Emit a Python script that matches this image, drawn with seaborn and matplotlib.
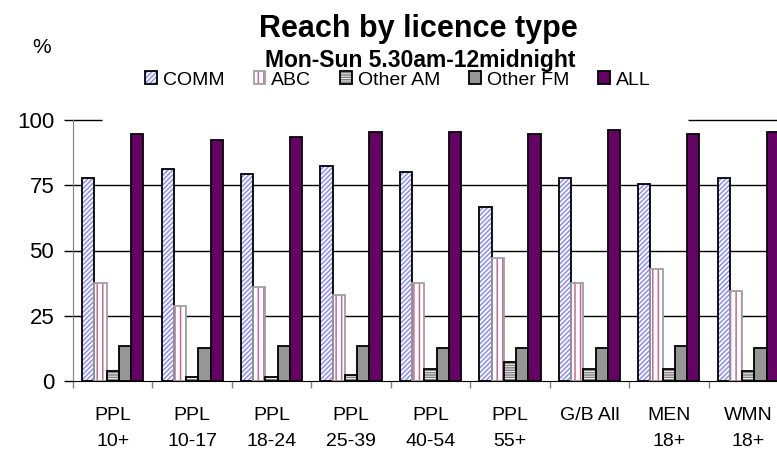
import numpy as np
import pandas as pd
import matplotlib
matplotlib.use('Agg')
import matplotlib.pyplot as plt
import matplotlib.patches as mpatches
from matplotlib.legend_handler import HandlerTuple
import seaborn as sns

# data (% reach)
groups = ['PPL\n10+', 'PPL\n10-17', 'PPL\n18-24', 'PPL\n25-39', 'PPL\n40-54',
          'PPL\n55+', 'G/B All\n ', 'MEN\n18+', 'WMN\n18+']
types = ['COMM', 'ABC', 'Other AM', 'Other FM', 'ALL']
comm = [77.6, 81.4, 79.2, 82.4, 79.9, 66.7, 77.6, 75.4, 77.6]
abc = [37.6, 28.6, 36.2, 33.0, 37.6, 47.0, 37.6, 43.0, 34.6]
other_am = [3.8, 1.5, 1.5, 2.3, 4.7, 7.4, 4.5, 4.5, 3.8]
other_fm = [13.5, 12.8, 13.5, 13.5, 12.8, 12.8, 12.8, 13.5, 12.8]
all_radio = [94.6, 92.3, 93.6, 95.4, 95.5, 94.6, 96.2, 94.6, 95.5]

wide = pd.DataFrame({'group': groups, 'COMM': comm, 'ABC': abc,
                     'Other AM': other_am, 'Other FM': other_fm, 'ALL': all_radio})
df = wide.melt(id_vars='group', var_name='type', value_name='reach')

# face, hatch, hatch colour, border
styles = {
    'COMM': ('white', '///////', '#8C8CFF', 'black'),
    'ABC': ('white', '|||', '#C8679A', '#A0A0A0'),
    'Other AM': ('white', '-------', '#808080', 'black'),
    'Other FM': ('#969696', None, None, 'black'),
    'ALL': ('#660066', None, None, 'black'),
}

plt.rcParams['font.family'] = ['Liberation Sans', 'DejaVu Sans']
plt.rcParams['hatch.linewidth'] = 1.1

fig = plt.figure(figsize=(7.77, 4.51), dpi=100)
ax = fig.add_axes([73 / 777, 70 / 451, 715 / 777, 261 / 451])

sns.barplot(data=df, x='group', y='reach', hue='type', hue_order=types,
            order=groups, width=0.77, errorbar=None, legend=False,
            palette=['white'] * 5, ax=ax)

for cont, t in zip(ax.containers, types):
    face, hatch, hcol, edge = styles[t]
    for p in cont:
        p.set_facecolor(face)
        p.set_zorder(2)
        if hatch:
            p.set_hatch(hatch)
            p.set_edgecolor(hcol)
            p.set_linewidth(0)
            ax.add_patch(mpatches.Rectangle(p.get_xy(), p.get_width(), p.get_height(),
                                            fill=False, edgecolor=edge, lw=1.3, zorder=2.1))
        else:
            p.set_edgecolor(edge)
            p.set_linewidth(1.3)

ax.set_xlim(-0.5, 8.5)
ax.set_ylim(0, 100)
ax.set_yticks([0, 25, 50, 75, 100])
ax.set_xlabel('')
ax.set_ylabel('')

# gridlines (the 100 line is hidden behind the legend area in the original)
ax.hlines([25, 50, 75], -0.5, 8.5, color='black', lw=1, zorder=1)
ax.hlines(100, -0.5, -0.13, color='black', lw=1, zorder=1, clip_on=False)
ax.hlines(100, 7.24, 8.5, color='black', lw=1, zorder=1, clip_on=False)

for s in ['top', 'right']:
    ax.spines[s].set_visible(False)
ax.spines['left'].set_color('#808080')
ax.spines['bottom'].set_color('black')
ax.spines['bottom'].set_zorder(3)

ax.tick_params(axis='y', length=6.5, width=1, color='black', labelsize=16, pad=7)
ax.tick_params(axis='x', which='major', length=0, labelsize=14, pad=19)
ax.set_xticks(np.arange(-0.5, 9, 1), minor=True)
ax.tick_params(axis='x', which='minor', length=5, width=1, color='#808080')
for lab in ax.get_xticklabels():
    lab.set_linespacing(1.65)

fig.text(418 / 777, 1 - 37 / 451, 'Reach by licence type', ha='center', va='baseline',
         fontsize=22, fontweight='bold')
fig.text(420 / 777, 1 - 67 / 451, 'Mon-Sun 5.30am-12midnight', ha='center', va='baseline',
         fontsize=16.5, fontweight='bold')
fig.text(42 / 777, 1 - 53 / 451, '%', ha='center', va='baseline', fontsize=15)

handles = []
for t in types:
    face, hatch, hcol, edge = styles[t]
    if hatch:
        h = (mpatches.Patch(facecolor=face, hatch=hatch, edgecolor=hcol, lw=0),
             mpatches.Patch(fill=False, edgecolor=edge, lw=1.3))
    else:
        h = mpatches.Patch(facecolor=face, edgecolor=edge, lw=1.3)
    handles.append(h)
fig.legend(handles, types, loc='center', bbox_to_anchor=(398 / 777, 1 - 80 / 451),
           ncol=5, frameon=False, fontsize=14, handlelength=0.6, handleheight=0.6,
           handletextpad=0.3, columnspacing=1.5,
           handler_map={tuple: HandlerTuple(ndivide=1, pad=0)})

fig.savefig('out.png', dpi=100)
